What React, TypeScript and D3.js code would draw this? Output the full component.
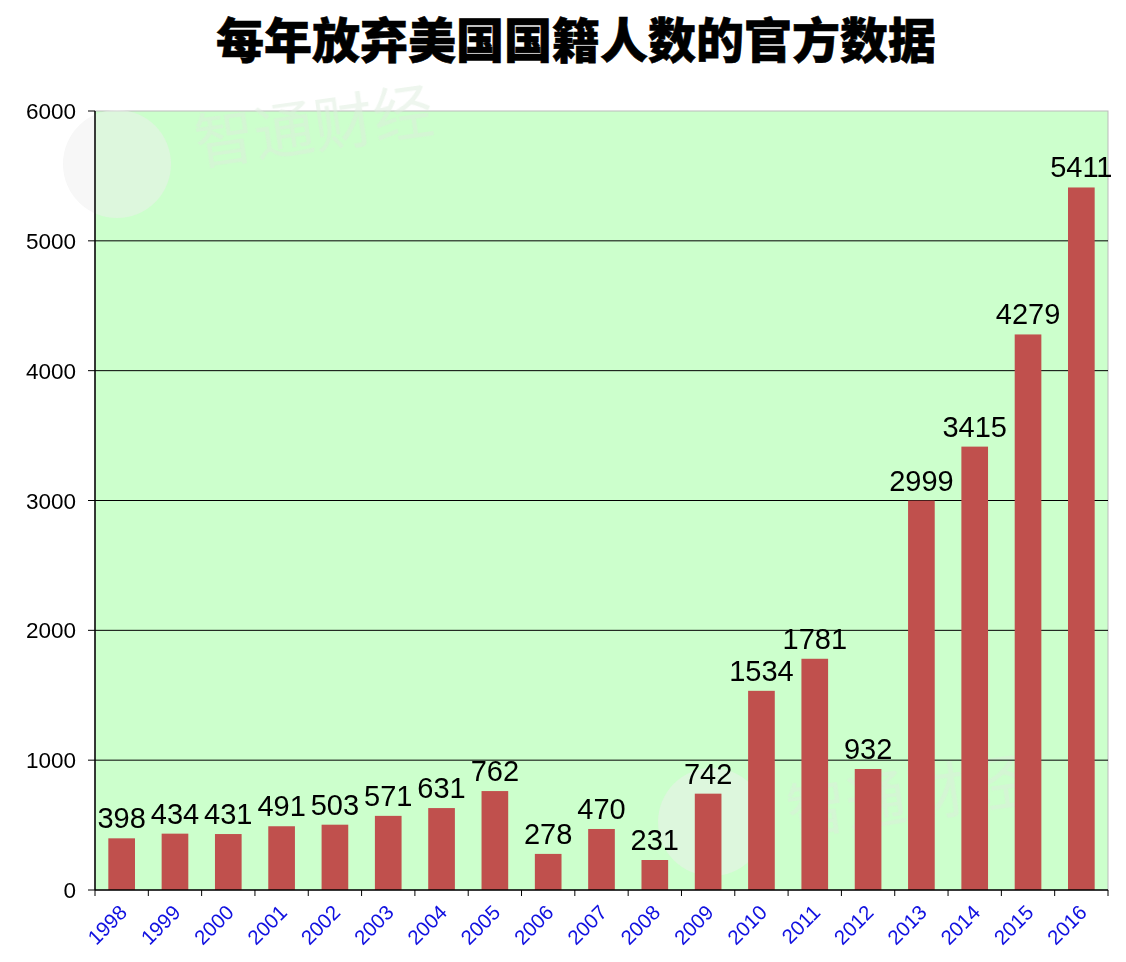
import React from "react";
import * as d3 from "d3";

const years = ["1998","1999","2000","2001","2002","2003","2004","2005","2006","2007","2008","2009","2010","2011","2012","2013","2014","2015","2016"];
const values = [398,434,431,491,503,571,631,762,278,470,231,742,1534,1781,932,2999,3415,4279,5411];
const yTicks = [0,1000,2000,3000,4000,5000,6000];
const title = "每年放弃美国国籍人数的官方数据";

export default function App() {
  const W = 1126, H = 962;
  const left = 95, right = 1108, top = 111, bottom = 890;
  const x = d3.scaleBand().domain(years).range([left, right]).paddingInner(0.5).paddingOuter(0.25);
  const y = d3.scaleLinear().domain([0, 6000]).range([bottom, top]);
  const step = (right - left) / years.length;
  const font = "'Liberation Sans', Arial, sans-serif";
  return (
    <svg width={W} height={H} style={{ position: "absolute", left: 0, top: 0, background: "#fff" }}>
      <text x={576} y={58} textAnchor="middle" fontFamily="'Noto Sans CJK SC', sans-serif" fontWeight={900} fontSize={48} fill="#000" stroke="#000" strokeWidth={0.6}>{title}</text>
      <rect x={left} y={top} width={right - left} height={bottom - top} fill="#CCFFCC" stroke="#BBBBBB" strokeWidth={1} />
      {/* watermarks */}
      <g opacity={0.5}>
        <circle cx={117} cy={164} r={54} fill="#eeeeee" />
        <text x={198} y={165} fontFamily="'Noto Sans CJK SC', sans-serif" fontSize={60} fill="#dcecdc" transform="rotate(-8 198 165)">智通财经</text>
        <circle cx={712} cy={822} r={54} fill="#eeeeee" />
        <text x={790} y={835} fontFamily="'Noto Sans CJK SC', sans-serif" fontSize={60} fill="#dcecdc" transform="rotate(-8 790 835)">智通财经</text>
      </g>
      {yTicks.filter(t => t > 0 && t < 6000).map(t => (
        <line key={t} x1={left} x2={right} y1={y(t)} y2={y(t)} stroke="#000" strokeWidth={1} />
      ))}
      {values.map((v, i) => (
        <rect key={years[i]} x={x(years[i])!} y={y(v)} width={x.bandwidth()} height={bottom - y(v)} fill="#C0504D" />
      ))}
      {values.map((v, i) => (
        <text key={"l" + years[i]} x={x(years[i])! + x.bandwidth() / 2} y={y(v) - 10} textAnchor="middle" fontFamily={font} fontSize={29} fill="#000">{v}</text>
      ))}
      <line x1={left} x2={left} y1={top} y2={bottom} stroke="#000" strokeWidth={1.5} />
      <line x1={left} x2={right} y1={bottom} y2={bottom} stroke="#000" strokeWidth={1.5} />
      {yTicks.map(t => (
        <g key={"yt" + t}>
          <line x1={left - 7} x2={left} y1={y(t)} y2={y(t)} stroke="#000" strokeWidth={1} />
          <text x={left - 19} y={y(t) + 8} textAnchor="end" fontFamily={font} fontSize={22.5} fill="#000">{t}</text>
        </g>
      ))}
      {d3.range(years.length + 1).map(i => (
        <line key={"xt" + i} x1={left + i * step} x2={left + i * step} y1={bottom} y2={bottom + 6} stroke="#000" strokeWidth={1} />
      ))}
      {years.map((yr) => {
        const cx = x(yr)! + x.bandwidth() / 2 - 4;
        const cy = bottom + 13;
        return (
          <text key={"xl" + yr} x={cx} y={cy} textAnchor="end" dominantBaseline="hanging" fontFamily={font} fontSize={20.5} fill="#1010E0" transform={`rotate(-45 ${cx} ${cy})`}>{yr}</text>
        );
      })}
    </svg>
  );
}
